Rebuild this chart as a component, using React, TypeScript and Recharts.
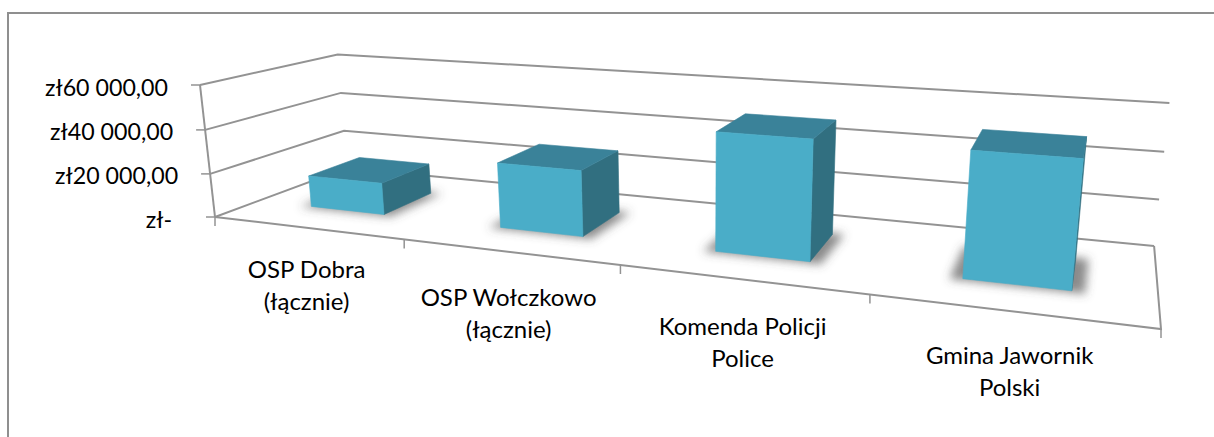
import { BarChart, Bar, XAxis, YAxis, CartesianGrid } from 'recharts'

const categories = ['OSP Dobra\n(łącznie)', 'OSP Wołczkowo\n(łącznie)', 'Komenda Policji\nPolice', 'Gmina Jawornik\nPolski']
const amounts = [14600, 28900, 49800, 50100]
const valueTicks = [0, 20000, 40000, 60000]
const maxValue = 60000

const chartData = categories.map((name, i) => ({ name, amount: amounts[i] }))

const WIDTH = 1214
const HEIGHT = 437
const MARGIN = { top: 20, right: 20, bottom: 19, left: 19 }
const AXIS_SIZE = 1
const PLOT_LEFT = MARGIN.left + AXIS_SIZE
const PLOT_W = WIDTH - PLOT_LEFT - MARGIN.right
const PLOT_BOTTOM = HEIGHT - MARGIN.bottom - AXIS_SIZE
const PLOT_H = PLOT_BOTTOM - MARGIN.top

const FONT = 'Lato, sans-serif'
const FONT_SIZE = 23.2
const CATEGORY_FONT_SIZE = 24
const LINE = '#939393'
const FRONT = '#4aadc8'
const TOP = '#3a8299'
const SIDE = '#316f80'

type Pt = [number, number]

// camera for the 3D look: box corners on screen + perspective weights
const A000: Pt = [215, 217]
const A100: Pt = [1161, 329]
const A010: Pt = [347, 168]
const A001: Pt = [200, 85]
const WU = -0.25
const WD = 0.17
const WH = -0.03

// u = along categories, d = depth, h = height (all 0..1)
function project(u: number, d: number, h: number): Pt {
  const w = 1 + WU * u + WD * d + WH * h
  const out = [0, 1].map((k) => {
    const pu = A100[k] * (1 + WU) - A000[k]
    const pd = A010[k] * (1 + WD) - A000[k]
    const ph = A001[k] * (1 + WH) - A000[k]
    return (A000[k] + pu * u + pd * d + ph * h) / w
  })
  return [out[0], out[1]]
}

const toPoints = (pts: Pt[]) => pts.map((p) => `${p[0].toFixed(1)},${p[1].toFixed(1)}`).join(' ')
const toU = (x: number) => (x - PLOT_LEFT) / PLOT_W
const toH = (y: number) => (PLOT_BOTTOM - y) / PLOT_H

function GridLine(props: any) {
  const h = toH(props.y1)
  const wall = [project(0, 0, h), project(0, 1, h), project(1, 1, h)]
  return (
    <g key={props.key ?? `grid-${props.y1}`}>
      <polyline points={toPoints(wall)} fill="none" stroke={LINE} strokeWidth={2} />
      {h < 0.001 && (
        <polyline points={toPoints([project(1, 1, 0), project(1, 0, 0), project(0, 0, 0)])} fill="none" stroke={LINE} strokeWidth={2} />
      )}
      {h > 0.999 && (
        <polyline points={toPoints([project(0, 0, 0), project(0, 0, 1)])} fill="none" stroke={LINE} strokeWidth={2} />
      )}
    </g>
  )
}

function Box3D(props: any) {
  const { x, y, width, height } = props
  const u0 = toU(x)
  const u1 = toU(x + width)
  const h = toH(y)
  const h0 = toH(y + height)
  const d0 = 0.3
  const d1 = 0.7
  const shadow = [project(u0 - 0.012, d0 - 0.02, 0), project(u1 + 0.012, d0 - 0.02, 0), project(u1 + 0.012, d1 + 0.02, 0), project(u0 - 0.012, d1 + 0.02, 0)]
  const front = [project(u0, d0, h0), project(u1, d0, h0), project(u1, d0, h), project(u0, d0, h)]
  const side = [project(u1, d0, h0), project(u1, d1, h0), project(u1, d1, h), project(u1, d0, h)]
  const top = [project(u0, d0, h), project(u1, d0, h), project(u1, d1, h), project(u0, d1, h)]
  return (
    <g>
      <polygon points={toPoints(shadow)} fill="#4d4d4d" fillOpacity={0.66} filter="url(#barShadow)" />
      <polygon points={toPoints(side)} fill={SIDE} stroke={SIDE} strokeWidth={0.6} />
      <polygon points={toPoints(top)} fill={TOP} stroke={TOP} strokeWidth={0.6} />
      <polygon points={toPoints(front)} fill={FRONT} stroke={FRONT} strokeWidth={0.6} />
    </g>
  )
}

function CategoryTick(props: any) {
  const { x, payload, index } = props
  const band = 1 / categories.length
  const u = toU(x)
  const center = project(u, 0, 0)
  const nudge = [-3, 1, 3, 0][index] ?? 0
  const nudgeX = index === 2 ? 2 : 0
  const marks = [u + band / 2]
  if (index === 0) marks.push(u - band / 2)
  return (
    <g>
      {marks.map((m) => {
        const p = project(m, 0, 0)
        return <line key={m} x1={p[0]} y1={p[1]} x2={p[0]} y2={p[1] + 9} stroke={LINE} strokeWidth={1.5} />
      })}
      {String(payload.value).split('\n').map((t, i) => (
        <text key={t} x={center[0] + nudgeX} y={center[1] + 53 + nudge + i * 32} textAnchor="middle" fontFamily={FONT} fontSize={CATEGORY_FONT_SIZE} fill="#000">
          {t}
        </text>
      ))}
    </g>
  )
}

function formatValue(v: number) {
  if (v === 0) return 'zł-'
  return `zł${String(v / 1000)} 000,00`
}

function ValueTick(props: any) {
  const { y, payload } = props
  const p = project(0, 0, toH(y))
  return (
    <g>
      <line x1={p[0] - 9} y1={p[1]} x2={p[0]} y2={p[1]} stroke={LINE} strokeWidth={1.5} />
      <text x={p[0] - 32 - (payload.value === 0 ? 11 : 0)} y={p[1] + 10.5} textAnchor="end" fontFamily={FONT} fontSize={FONT_SIZE} fill="#000">
        {formatValue(payload.value)}
      </text>
    </g>
  )
}

export default function App() {
  return (
    <div style={{ position: 'absolute', left: 0, top: 0, width: WIDTH, height: HEIGHT, background: '#fff', overflow: 'hidden' }}>
      <div style={{ position: 'absolute', left: 7, top: 12, width: WIDTH, height: HEIGHT, borderLeft: '2px solid #8f8f8f', borderTop: '2px solid #8f8f8f' }} />
      <div style={{ position: 'absolute', left: 0, top: 0 }}>
        <BarChart width={WIDTH} height={HEIGHT} data={chartData} margin={MARGIN} barCategoryGap="30%">
          <defs>
            <filter id="barShadow" x="-30%" y="-40%" width="160%" height="180%">
              <feGaussianBlur stdDeviation="5" />
            </filter>
          </defs>
          <CartesianGrid vertical={false} horizontal={GridLine as any} />
          <XAxis dataKey="name" height={AXIS_SIZE} interval={0} axisLine={false} tickLine={false} tick={CategoryTick as any} />
          <YAxis width={AXIS_SIZE} domain={[0, maxValue]} ticks={valueTicks} interval={0} axisLine={false} tickLine={false} tick={ValueTick as any} />
          <Bar dataKey="amount" shape={Box3D as any} isAnimationActive={false} />
        </BarChart>
      </div>
    </div>
  )
}
